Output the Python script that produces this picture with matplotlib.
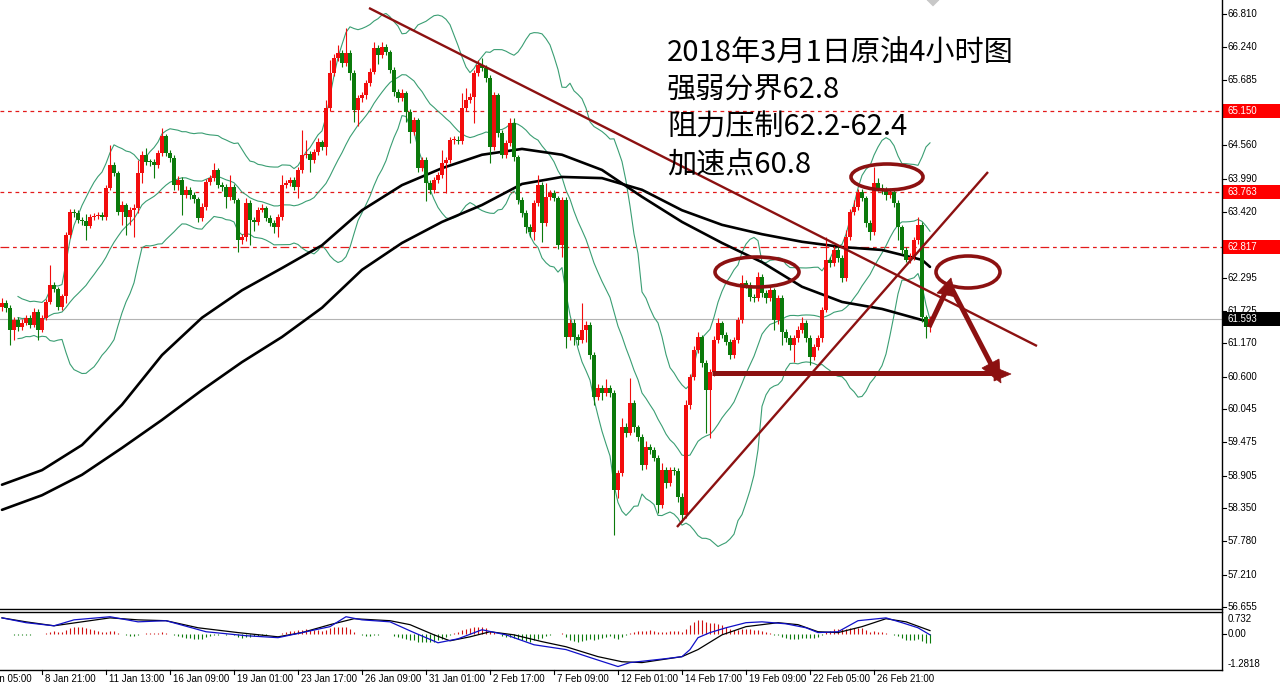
import numpy as np
import pandas as pd
import matplotlib
matplotlib.use("Agg")
import matplotlib.pyplot as plt
from matplotlib.patches import Ellipse, Polygon, Rectangle
from matplotlib.lines import Line2D

# ---------------- data (4h crude oil candles) ----------------
OPEN0 = 61.80
CLOSE = [61.86, 61.78, 61.40, 61.57, 61.45, 61.52, 61.61, 61.49, 61.71, 61.40,
         61.61, 61.88, 62.17, 62.10, 61.79, 61.98, 63.03, 63.42, 63.40, 63.28,
         63.27, 63.18, 63.33, 63.35, 63.37, 63.33, 63.83, 64.22, 64.09, 63.42,
         63.54, 63.33, 63.45, 63.49, 64.09, 64.40, 64.28, 64.27, 64.22, 64.43,
         64.72, 64.43, 64.34, 63.88, 63.97, 63.71, 63.80, 63.71, 63.64, 63.32,
         63.51, 63.93, 64.00, 64.14, 63.88, 63.85, 63.68, 63.85, 63.63, 62.94,
         62.99, 63.57, 63.28, 63.25, 63.45, 63.49, 63.32, 63.23, 63.16, 63.33,
         63.88, 63.92, 63.97, 63.85, 64.14, 64.40, 64.41, 64.31, 64.45, 64.62,
         64.53, 65.20, 65.80, 66.06, 66.14, 65.97, 66.14, 65.80, 65.17, 65.37,
         65.42, 65.63, 65.82, 66.23, 66.11, 66.25, 66.16, 65.85, 65.47, 65.37,
         65.46, 65.13, 64.79, 64.99, 64.17, 64.31, 63.92, 63.80, 63.97, 64.05,
         64.26, 64.31, 64.65, 64.66, 64.64, 65.20, 65.34, 65.39, 65.80, 65.94,
         65.89, 65.71, 64.53, 65.42, 64.77, 64.40, 64.60, 64.94, 64.36, 63.63,
         63.40, 63.16, 63.08, 63.57, 63.88, 63.23, 63.68, 63.75, 63.66, 62.85,
         63.63, 61.28, 61.52, 61.28, 61.23, 61.40, 61.49, 60.97, 60.25, 60.41,
         60.32, 60.41, 60.32, 58.66, 58.95, 59.74, 59.64, 60.15, 59.74, 59.57,
         59.09, 59.40, 59.34, 59.21, 58.40, 59.00, 58.78, 59.00, 58.99, 58.54,
         58.23, 60.12, 60.59, 61.06, 61.28, 60.83, 60.37, 60.68, 61.23, 61.52,
         61.31, 61.19, 60.97, 61.23, 61.57, 62.20, 62.17, 61.96, 61.95, 62.31,
         62.03, 61.95, 62.08, 61.57, 61.95, 61.36, 61.26, 61.14, 61.26, 61.40,
         61.52, 61.26, 60.94, 61.11, 61.26, 61.74, 62.60, 62.55, 62.77, 62.63,
         62.29, 62.99, 63.42, 63.51, 63.76, 63.66, 63.23, 63.08, 63.92, 63.83,
         63.80, 63.71, 63.76, 63.57, 63.16, 62.77, 62.60, 62.65, 62.94, 63.20,
         61.62, 61.45, 61.59]
HIGH = [61.95, 61.92, 61.82, 61.63, 61.62, 61.58, 61.66, 61.65, 61.78, 61.76,
        61.66, 61.93, 62.51, 62.22, 62.14, 62.02, 63.08, 63.47, 63.47, 63.45,
        63.33, 63.38, 63.38, 63.40, 63.42, 63.42, 63.88, 64.57, 64.28, 64.12,
        63.60, 63.58, 63.50, 63.55, 64.31, 64.46, 64.52, 64.33, 64.32, 64.48,
        64.85, 64.76, 64.48, 64.40, 64.03, 64.02, 63.86, 63.85, 63.76, 63.68,
        63.57, 63.98, 64.05, 64.26, 64.18, 63.93, 63.90, 64.05, 63.90, 63.66,
        63.04, 63.66, 63.62, 63.33, 63.50, 63.55, 63.53, 63.36, 63.28, 63.38,
        64.05, 63.97, 64.02, 64.02, 64.19, 64.82, 64.65, 64.46, 64.50, 64.68,
        64.66, 65.34, 66.02, 66.12, 66.28, 66.20, 66.57, 66.20, 65.85, 65.42,
        65.48, 65.68, 65.88, 66.33, 66.28, 66.33, 66.30, 66.20, 65.90, 65.52,
        65.52, 65.50, 65.18, 65.05, 65.03, 64.36, 64.36, 63.97, 64.02, 64.10,
        64.48, 64.36, 64.70, 64.72, 64.72, 65.46, 65.54, 65.45, 65.85, 66.02,
        66.06, 65.94, 65.76, 65.48, 65.46, 64.82, 64.66, 65.03, 65.03, 64.40,
        63.68, 63.45, 63.22, 63.62, 64.05, 63.93, 63.92, 63.80, 63.80, 63.70,
        63.68, 63.68, 61.58, 61.58, 61.33, 61.86, 61.55, 61.54, 61.02, 60.47,
        60.46, 60.56, 60.46, 60.37, 59.00, 59.90, 59.80, 60.58, 60.20, 59.78,
        59.62, 59.50, 59.45, 59.40, 59.26, 59.12, 59.05, 59.06, 59.05, 59.04,
        58.60, 60.20, 60.65, 61.12, 61.36, 61.32, 60.88, 60.74, 61.30, 61.60,
        61.56, 61.36, 61.24, 61.28, 61.63, 62.34, 62.26, 62.22, 62.02, 62.40,
        62.36, 62.08, 62.14, 62.12, 62.00, 62.00, 61.42, 61.32, 61.32, 61.46,
        61.62, 61.57, 61.31, 61.16, 61.32, 61.80, 62.99, 62.65, 62.83, 62.82,
        62.68, 63.11, 63.47, 63.63, 63.82, 63.82, 63.70, 63.28, 64.19, 64.00,
        63.90, 63.85, 63.83, 63.80, 63.62, 63.20, 62.82, 62.72, 63.00, 63.33,
        63.25, 61.66, 61.64]
LOW = [61.72, 61.70, 61.14, 61.23, 61.38, 61.40, 61.48, 61.44, 61.45, 61.23,
       61.36, 61.57, 61.85, 62.05, 61.74, 61.74, 61.86, 62.97, 63.33, 63.24,
       63.20, 62.94, 63.14, 63.28, 63.30, 63.28, 63.28, 63.79, 64.04, 63.37,
       63.20, 63.03, 63.20, 62.99, 63.40, 63.92, 64.22, 64.20, 64.00, 64.17,
       64.38, 64.38, 64.28, 63.80, 63.80, 63.37, 63.66, 63.64, 63.58, 63.25,
       63.26, 63.46, 63.88, 63.95, 63.83, 63.78, 63.48, 63.62, 63.57, 62.74,
       62.88, 62.93, 62.85, 63.10, 63.20, 63.42, 63.27, 63.18, 63.06, 62.99,
       63.28, 63.83, 63.87, 63.80, 63.66, 64.09, 64.35, 64.10, 64.26, 64.40,
       64.48, 64.40, 65.15, 65.75, 66.00, 65.90, 65.92, 65.68, 64.96, 64.89,
       65.30, 65.36, 65.58, 65.78, 65.95, 66.05, 66.10, 65.80, 65.40, 65.30,
       65.32, 64.96, 64.60, 64.74, 64.10, 64.12, 63.60, 63.73, 63.74, 63.92,
       64.00, 63.75, 64.26, 64.58, 64.58, 64.58, 65.15, 65.28, 64.94, 65.75,
       65.84, 65.65, 64.26, 64.48, 64.70, 64.34, 64.35, 64.55, 64.30, 63.55,
       63.33, 63.06, 63.00, 62.94, 63.52, 62.91, 63.18, 63.62, 63.60, 62.78,
       62.65, 61.09, 61.22, 61.14, 61.14, 61.18, 61.20, 60.90, 60.12, 60.20,
       60.20, 60.27, 60.25, 57.89, 58.52, 58.90, 59.57, 59.60, 59.65, 59.50,
       59.00, 59.02, 59.28, 59.15, 58.27, 58.35, 58.70, 58.72, 58.92, 58.45,
       58.11, 58.18, 60.05, 60.54, 61.00, 60.76, 59.64, 59.55, 60.62, 61.18,
       61.26, 61.14, 60.90, 60.92, 61.18, 61.52, 62.12, 61.90, 61.88, 61.90,
       61.97, 61.86, 61.90, 61.40, 61.50, 61.14, 61.20, 61.05, 60.85, 61.20,
       61.35, 61.20, 60.80, 60.88, 61.05, 61.20, 61.70, 62.48, 62.50, 62.57,
       62.22, 62.24, 62.94, 63.37, 63.46, 63.60, 63.16, 62.94, 63.03, 63.78,
       63.72, 63.63, 63.66, 63.50, 62.94, 62.70, 62.56, 62.54, 62.60, 62.88,
       61.54, 61.26, 61.36]

# two long moving averages (every 10 bars)
MA_IDX = [0, 10, 20, 30, 40, 50, 60, 70, 80, 90, 100, 110, 120, 130, 140, 150,
          160, 170, 180, 190, 200, 210, 220, 230, 232]
MA_FAST = [58.75, 59.00, 59.43, 60.12, 60.97, 61.61, 62.08, 62.46, 62.85, 63.45,
           63.88, 64.17, 64.40, 64.50, 64.40, 64.14, 63.68, 63.25, 62.89, 62.56,
           62.14, 61.88, 61.76, 61.57, 61.54]
MA_SLOW = [58.32, 58.57, 58.92, 59.38, 59.86, 60.37, 60.85, 61.28, 61.78, 62.43,
           62.89, 63.25, 63.54, 63.90, 64.02, 64.00, 63.80, 63.45, 63.20, 63.04,
           62.91, 62.82, 62.77, 62.60, 62.48]

# MACD sub-window lines
MACD_IDX = [0, 6, 13, 18, 27, 34, 41, 51, 61, 69, 76, 82, 86, 90, 97, 103, 109, 114,
            120, 126, 133, 141, 147, 154, 157, 166, 170, 172, 174, 177, 181, 186,
            190, 196, 201, 204, 209, 214, 221, 225, 229, 232]
MACD_MAIN = [0.56, 0.39, 0.28, 0.49, 0.60, 0.42, 0.46, 0.07, -0.07, -0.14,
             0.07, 0.25, 0.60, 0.49, 0.42, 0.04, -0.32, -0.18, 0.14, -0.04,
             -0.39, -0.56, -0.84, -1.16, -1.02, -0.88, -0.81, -0.56, -0.14, 0.04,
             0.21, 0.39, 0.42, 0.35, 0.21, 0.04, 0.07, 0.46, 0.56, 0.39,
             0.21, -0.04]
SIG_IDX = [0, 6, 13, 20, 27, 34, 41, 49, 59, 69, 75, 82, 88, 97, 102, 108, 112, 117,
           122, 128, 135, 141, 149, 155, 160, 170, 174, 180, 186, 194, 199, 204,
           209, 215, 221, 226, 232]
MACD_SIG = [0.56, 0.42, 0.28, 0.42, 0.56, 0.49, 0.46, 0.21, 0.04, -0.11,
            0.04, 0.32, 0.53, 0.46, 0.32, -0.04, -0.25, -0.11, 0.07, -0.04,
            -0.28, -0.46, -0.81, -0.99, -1.02, -0.81, -0.56, -0.04, 0.25, 0.39,
            0.32, 0.07, 0.04, 0.25, 0.53, 0.42, 0.11]

LEVELS = [65.150, 63.763, 62.817]
LAST_PRICE = 61.593
PRICE_TICKS = ["66.810", "66.240", "65.685", "64.560", "63.990", "63.420",
               "62.295", "61.725", "61.170", "60.600", "60.045", "59.475",
               "58.905", "58.350", "57.780", "57.210", "56.655"]
TIME_LABELS = ["4 Jan 05:00", "8 Jan 21:00", "11 Jan 13:00", "16 Jan 09:00",
               "19 Jan 01:00", "23 Jan 17:00", "26 Jan 09:00", "31 Jan 01:00",
               "2 Feb 17:00", "7 Feb 09:00", "12 Feb 01:00", "14 Feb 17:00",
               "19 Feb 09:00", "22 Feb 05:00", "26 Feb 21:00"]
TIME_BARS = [-6, 10, 26, 42, 58, 74, 90, 106, 122, 138, 154, 170, 186, 202, 218]
NOTE_LINES = ["2018年3月1日原油4小时图", "强弱分界62.8", "阻力压制62.2-62.4", "加速点60.8"]

# ---------------- figure ----------------
W, H = 1282, 688
fig = plt.figure(figsize=(W / 100, H / 100), dpi=100)
fig.patch.set_facecolor("white")
CJK = ["Noto Sans CJK SC", "DejaVu Sans"]
SMALL = "Liberation Sans"

PX_PER_BAR = 4.0
PX_PER_USD = 58.4
TOP_PRICE = 67.05
AX_RIGHT = 1222
MAIN_BOTTOM = 609
SUB_TOP, SUB_BOTTOM = 613, 670


def fy(ypx):
    return 1 - ypx / H


def fx(xpx):
    return xpx / W


def bx(px):
    return px / PX_PER_BAR - 0.5


def py(px):
    return TOP_PRICE - px / PX_PER_USD


def ypx(price):
    return (TOP_PRICE - price) * PX_PER_USD


xlim = (-0.5, AX_RIGHT / PX_PER_BAR - 0.5)

ax = fig.add_axes([0, fy(MAIN_BOTTOM), fx(AX_RIGHT), MAIN_BOTTOM / H])
ax.set_xlim(*xlim)
ax.set_ylim(TOP_PRICE - MAIN_BOTTOM / PX_PER_USD, TOP_PRICE)
ax.axis("off")

n = len(CLOSE)
idx = np.arange(n)
close = np.array(CLOSE)
opn = np.concatenate([[OPEN0], close[:-1]])
high = np.array(HIGH)
low = np.array(LOW)
up = close >= opn
RED = "#f20d0d"
GREEN = "#0b7a0b"
cols = np.where(up, RED, GREEN)

# Bollinger bands (20, 2)
s = pd.Series(close)
mid = s.rolling(20, min_periods=5).mean()
sd = s.rolling(20, min_periods=5).std(ddof=0)
BB = "#3a9e73"
for band in (mid, mid + 2 * sd, mid - 2 * sd):
    ax.plot(idx, band, color=BB, lw=0.8, zorder=2)

# horizontal levels
ax.axhline(LEVELS[0], color="#e31a1a", lw=0.9, ls=(0, (3, 3)), zorder=1)
ax.axhline(LEVELS[1], color="#e31a1a", lw=0.9, ls=(0, (3, 3)), zorder=1)
ax.axhline(LEVELS[2], color="#e31a1a", lw=0.9, ls=(0, (7, 3, 3, 3)), zorder=1)
ax.axhline(LAST_PRICE, color="#b4b4b4", lw=0.8, zorder=1)

# moving averages
ax.plot(MA_IDX, MA_FAST, color="black", lw=1.9, zorder=3, solid_capstyle="round")
ax.plot(MA_IDX, MA_SLOW, color="black", lw=1.9, zorder=3, solid_capstyle="round")

# candles
ax.vlines(idx, low, high, colors=cols, lw=0.8, zorder=4)
body_h = np.maximum(np.abs(close - opn), 0.018)
ax.bar(idx, body_h, bottom=np.minimum(close, opn), width=0.78, color=cols,
       linewidth=0, zorder=5)

# ---------------- annotations ----------------
MAROON = "#8c1111"


def seg(x0, y0, x1, y1, lw=1.7):
    ax.plot([bx(x0), bx(x1)], [py(y0), py(y1)], color=MAROON, lw=lw, zorder=6,
            solid_capstyle="butt")


def poly(pts):
    ax.add_patch(Polygon([(bx(a), py(b)) for a, b in pts], closed=True,
                         fc=MAROON, ec=MAROON, lw=0.5, zorder=7))


def ell(cx, cy, w, h):
    ax.add_patch(Ellipse((bx(cx), py(cy)), w / PX_PER_BAR, h / PX_PER_USD,
                         fill=False, ec=MAROON, lw=2.6, zorder=7))


seg(369, 8, 1037, 346)          # falling resistance
seg(677, 527, 988, 172)         # rising support
seg(712, 373, 998, 373, lw=3.6)  # acceleration level
poly([(1011, 374), (994, 367), (994, 381)])
# projected path
seg(929, 327, 946, 291, lw=3.6)
poly([(951, 278), (937, 293), (956, 297)])
seg(951, 287, 992, 366, lw=3.6)
poly([(1001, 383), (982, 368), (999, 359)])

ell(757, 272, 84, 30)
ell(887, 177, 72, 26)
ell(968, 272, 64, 32)

# note text
for k, t in enumerate(NOTE_LINES):
    fig.text(fx(667), fy(54 + 37 * k), t, fontsize=21, family=CJK,
             va="center", ha="left", color="black")

# ---------------- MACD sub-window ----------------
ax2 = fig.add_axes([0, fy(SUB_BOTTOM), fx(AX_RIGHT), (SUB_BOTTOM - SUB_TOP) / H])
ax2.set_xlim(*xlim)
ax2.set_ylim(-1.2818, 0.732)
ax2.axis("off")
ema12 = s.ewm(span=12, adjust=False).mean()
ema26 = s.ewm(span=26, adjust=False).mean()
macd_c = ema12 - ema26
sig_c = macd_c.rolling(9, min_periods=1).mean()
hist = (macd_c - sig_c).values
hcols = np.where(hist >= 0, "#d01010", "#0b7a0b")
ax2.vlines(idx, 0, hist, colors=hcols, lw=0.8, zorder=2)
ax2.plot(SIG_IDX, MACD_SIG, color="black", lw=0.9, zorder=3)
ax2.plot(MACD_IDX, MACD_MAIN, color="#1010c8", lw=0.9, zorder=4)

# ---------------- frames ----------------
def fline(x0, y0, x1, y1, lw=1.0, color="black"):
    fig.add_artist(Line2D([fx(x0), fx(x1)], [fy(y0), fy(y1)], color=color, lw=lw))


fline(0, MAIN_BOTTOM, AX_RIGHT, MAIN_BOTTOM)
fline(0, SUB_TOP - 1, AX_RIGHT, SUB_TOP - 1)
fline(0, SUB_BOTTOM, AX_RIGHT, SUB_BOTTOM)
fline(AX_RIGHT, 0, AX_RIGHT, SUB_BOTTOM)

# chart-shift marker
fig.add_artist(Polygon([(fx(927), fy(0)), (fx(939), fy(0)), (fx(933), fy(6))],
                       closed=True, fc="#c8c8c8", ec="#c8c8c8", lw=0.5))

# price scale
for lab in PRICE_TICKS:
    y = ypx(float(lab))
    fline(AX_RIGHT, y, AX_RIGHT + 4, y, lw=0.8)
    fig.text(fx(AX_RIGHT + 6), fy(y), lab, fontsize=7, family=SMALL, va="center",
             ha="left", color="black")


def tag(price, fc, tc="white"):
    y = ypx(price)
    fig.add_artist(Rectangle((fx(AX_RIGHT + 1), fy(y + 7)), fx(57), 14 / H,
                             fc=fc, ec=fc, lw=0))
    fig.text(fx(AX_RIGHT + 6), fy(y), f"{price:.3f}", fontsize=7, family=SMALL,
             va="center", ha="left", color=tc)


for lv in LEVELS:
    tag(lv, "#ff0000")
tag(LAST_PRICE, "black")

# MACD scale labels
sub_h = SUB_BOTTOM - SUB_TOP


def subpx(v):
    return SUB_TOP + (0.732 - v) / (0.732 + 1.2818) * sub_h


fig.text(fx(AX_RIGHT + 6), fy(SUB_TOP + 1), "0.732", fontsize=7, family=SMALL,
         va="top", ha="left")
fig.text(fx(AX_RIGHT + 6), fy(subpx(0.0)), "0.00", fontsize=7, family=SMALL,
         va="center", ha="left")
fig.text(fx(AX_RIGHT + 6), fy(SUB_BOTTOM - 1), "-1.2818", fontsize=7, family=SMALL,
         va="bottom", ha="left")
fline(AX_RIGHT, subpx(0.0), AX_RIGHT + 4, subpx(0.0), lw=0.8)

# time scale
for b, lab in zip(TIME_BARS, TIME_LABELS):
    xp = (b + 0.5) * PX_PER_BAR
    fline(xp, SUB_BOTTOM, xp, SUB_BOTTOM + 4, lw=0.8)
    fig.text(fx(xp + 3), fy(679), lab, fontsize=7, family=SMALL, va="center",
             ha="left")

fig.savefig("out.png", dpi=100, facecolor="white")
